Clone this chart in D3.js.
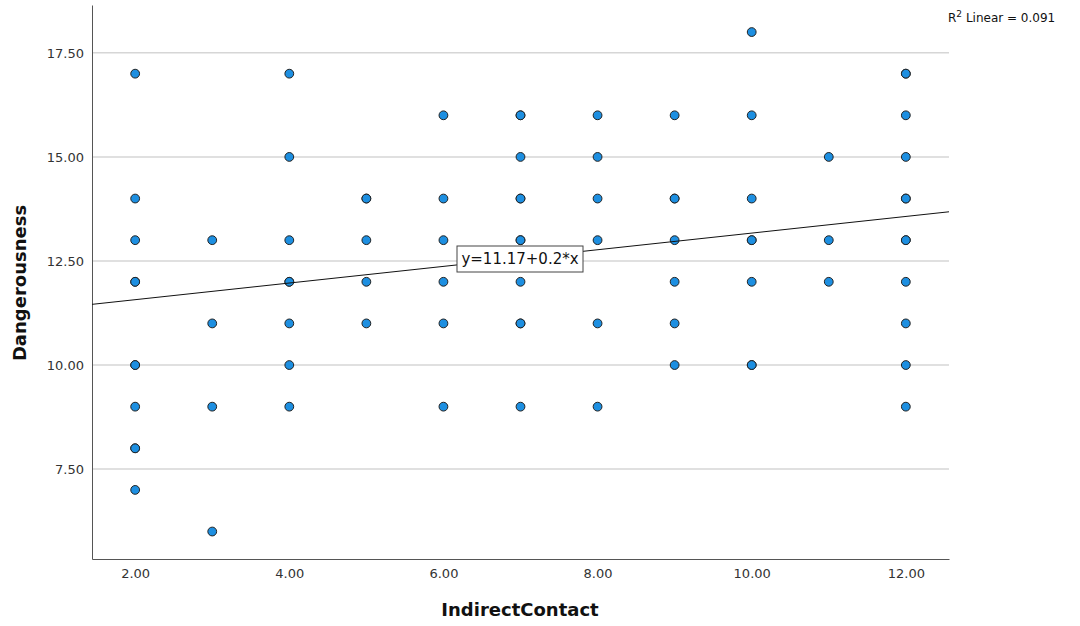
<!DOCTYPE html>
<html>
<head>
<meta charset="utf-8">
<script src="https://cdn.jsdelivr.net/npm/d3@7"></script>
<style>
  body { margin: 0; background: #fff; }
  text { font-family: "DejaVu Sans", "Open Sans", sans-serif; }
</style>
</head>
<body>
<svg width="1080" height="626"></svg>
<script>
// data (repeated pairs are overlapping cases)
var contact = [2,2,2,2,2,2,2,2,2,2,2,
  3,3,3,3,
  4,4,4,4,4,4,4,4,
  5,5,5,5,5,
  6,6,6,6,6,6,
  7,7,7,7,7,7,7,7,7,7,7,
  8,8,8,8,8,8,
  9,9,9,9,9,9,9,
  10,10,10,10,10,10,10,10,
  11,11,11,
  12,12,12,12,12,12,12,12,12,12,12,12];
var danger = [17,14,13,12,12,10,10,9,8,8,7,
  13,11,9,6,
  17,15,13,12,12,11,10,9,
  14,14,13,12,11,
  16,14,13,12,11,9,
  16,16,15,14,14,13,13,12,11,11,9,
  16,15,14,13,11,9,
  16,14,14,13,12,11,10,
  18,16,14,13,13,12,10,10,
  15,13,12,
  17,17,16,15,14,14,13,13,12,11,10,9];
var xTicks = [2, 4, 6, 8, 10, 12];
var yTicks = [7.5, 10, 12.5, 15, 17.5];
var intercept = 11.17, slope = 0.2, rSquared = 0.091;

var svg = d3.select('svg');

var x = d3.scaleLinear().domain([1.44, 12.56]).range([92, 949]);
var y = d3.scaleLinear().domain([5.34, 18.65]).range([559, 5]);

// grid lines
svg.append('g')
    .selectAll('line')
    .data(yTicks)
    .join('line')
    .attr('x1', 92)
    .attr('x2', 949)
    .attr('y1', d => y(d))
    .attr('y2', d => y(d))
    .style('stroke', '#d6d6d6')
    .style('stroke-width', 1.5);

// axes
var xAxis = svg.append('g')
    .attr('transform', 'translate(0,559)')
    .call(d3.axisBottom(x).tickValues(xTicks).tickFormat(d3.format('.2f')).tickSize(0).tickPadding(10));
var yAxis = svg.append('g')
    .attr('transform', 'translate(92,0)')
    .call(d3.axisLeft(y).tickValues(yTicks).tickFormat(d3.format('.2f')).tickSize(0).tickPadding(8));

[xAxis, yAxis].forEach(function(a) {
  a.select('.domain').style('stroke', '#555').style('stroke-width', 1);
  a.selectAll('text').style('font-size', '13px').style('fill', '#333');
});

// points
var pts = d3.zip(contact, danger);
svg.append('g')
    .selectAll('circle')
    .data(pts)
    .join('circle')
    .attr('cx', d => x(d[0]))
    .attr('cy', d => y(d[1]))
    .attr('r', 4.4)
    .style('fill', '#1d8fe1')
    .style('stroke', '#222')
    .style('stroke-width', 1);

// fit line
var xd = x.domain();
svg.append('line')
    .attr('x1', x(xd[0]))
    .attr('y1', y(intercept + slope * xd[0]))
    .attr('x2', x(xd[1]))
    .attr('y2', y(intercept + slope * xd[1]))
    .style('stroke', '#111')
    .style('stroke-width', 1);

// equation label
var lbl = svg.append('g').attr('transform', 'translate(520,259)');
lbl.append('rect')
    .attr('x', -63)
    .attr('y', -13)
    .attr('width', 126)
    .attr('height', 26)
    .style('fill', '#fff')
    .style('stroke', '#444')
    .style('stroke-width', 1);
lbl.append('text')
    .attr('text-anchor', 'middle')
    .attr('dy', '0.35em')
    .style('font-size', '15px')
    .style('fill', '#111')
    .text('y=' + intercept + '+' + slope + '*x');

// R squared note
var r2 = svg.append('text')
    .attr('x', 948)
    .attr('y', 22)
    .style('font-size', '12px')
    .style('fill', '#111');
r2.append('tspan').text('R');
r2.append('tspan').attr('dy', -5).style('font-size', '9px').text('2');
r2.append('tspan').attr('dy', 5).text(' Linear = ' + rSquared);

// axis titles
svg.append('text')
    .attr('x', 520)
    .attr('y', 616)
    .attr('text-anchor', 'middle')
    .style('font-size', '18px')
    .style('font-weight', 'bold')
    .style('fill', '#111')
    .text('IndirectContact');

svg.append('text')
    .attr('transform', 'translate(26,283) rotate(-90)')
    .attr('text-anchor', 'middle')
    .style('font-size', '18px')
    .style('font-weight', 'bold')
    .style('fill', '#111')
    .text('Dangerousness');
</script>
</body>
</html>
